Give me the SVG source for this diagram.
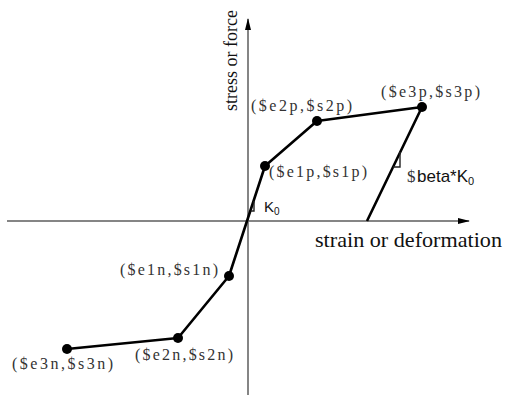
<svg xmlns="http://www.w3.org/2000/svg" width="505" height="399" viewBox="0 0 505 399">
<style>
.axis{stroke:#858585;stroke-width:2;fill:none}
.curve{stroke:#000;stroke-width:2.6;fill:none;stroke-linejoin:round}
.tick{stroke:#222;stroke-width:1.4;fill:none}
.dot{fill:#000}
.lbl{font-family:"Liberation Serif",serif;font-size:16px;fill:#333}
.ax{font-family:"Liberation Serif",serif;fill:#111}
.k{font-family:"Liberation Sans",Arial,sans-serif;fill:#111}
</style>
<defs>
<marker id="arr" markerWidth="12" markerHeight="8" refX="11" refY="4" orient="auto" markerUnits="userSpaceOnUse">
<path d="M0,1 L12,4 L0,7 Z" fill="#000"/>
</marker>
</defs>
<g id="axes">
<line class="axis" x1="7" y1="221" x2="469" y2="221" marker-end="url(#arr)"/>
<line class="axis" x1="248" y1="395" x2="248" y2="19" marker-end="url(#arr)"/>
<text class="ax" transform="translate(237,111) rotate(-90)" font-size="18">stress or force</text>
<text class="ax" x="315" y="247" font-size="21" textLength="187" lengthAdjust="spacingAndGlyphs">strain or deformation</text>
</g>
<g id="connectors">
<polyline class="curve" points="67,349 178,338 229,276 265,166 317,121 422,107 367,221"/>
<polyline class="tick" points="254,201 254,211 250.8,211"/>
<polyline class="tick" points="400,152 400,167 393,167"/>
</g>
<g id="n-e3n"><circle class="dot" cx="67" cy="349" r="5"/><text class="lbl" x="12" y="369" textLength="101">($e3n,$s3n)</text></g>
<g id="n-e2n"><circle class="dot" cx="178" cy="338" r="5"/><text class="lbl" x="135" y="360" textLength="98">($e2n,$s2n)</text></g>
<g id="n-e1n"><circle class="dot" cx="229" cy="276" r="5"/><text class="lbl" x="120" y="275" textLength="98">($e1n,$s1n)</text></g>
<g id="n-e1p"><circle class="dot" cx="265" cy="166" r="5"/><text class="lbl" x="269" y="177" textLength="98">($e1p,$s1p)</text></g>
<g id="n-e2p"><circle class="dot" cx="317" cy="121" r="5"/><text class="lbl" x="251" y="111" textLength="101">($e2p,$s2p)</text></g>
<g id="n-e3p"><circle class="dot" cx="422" cy="107" r="5"/><text class="lbl" x="381" y="97" textLength="99">($e3p,$s3p)</text></g>
<g id="k0"><text class="k" x="264" y="212" font-size="15">K<tspan font-size="10" dy="3">0</tspan></text></g>
<g id="beta"><text class="lbl" x="407" y="182" style="font-size:17px">$</text><text class="k" x="417" y="182" font-size="17">beta*K<tspan font-size="11" dy="3">0</tspan></text></g>
</svg>
